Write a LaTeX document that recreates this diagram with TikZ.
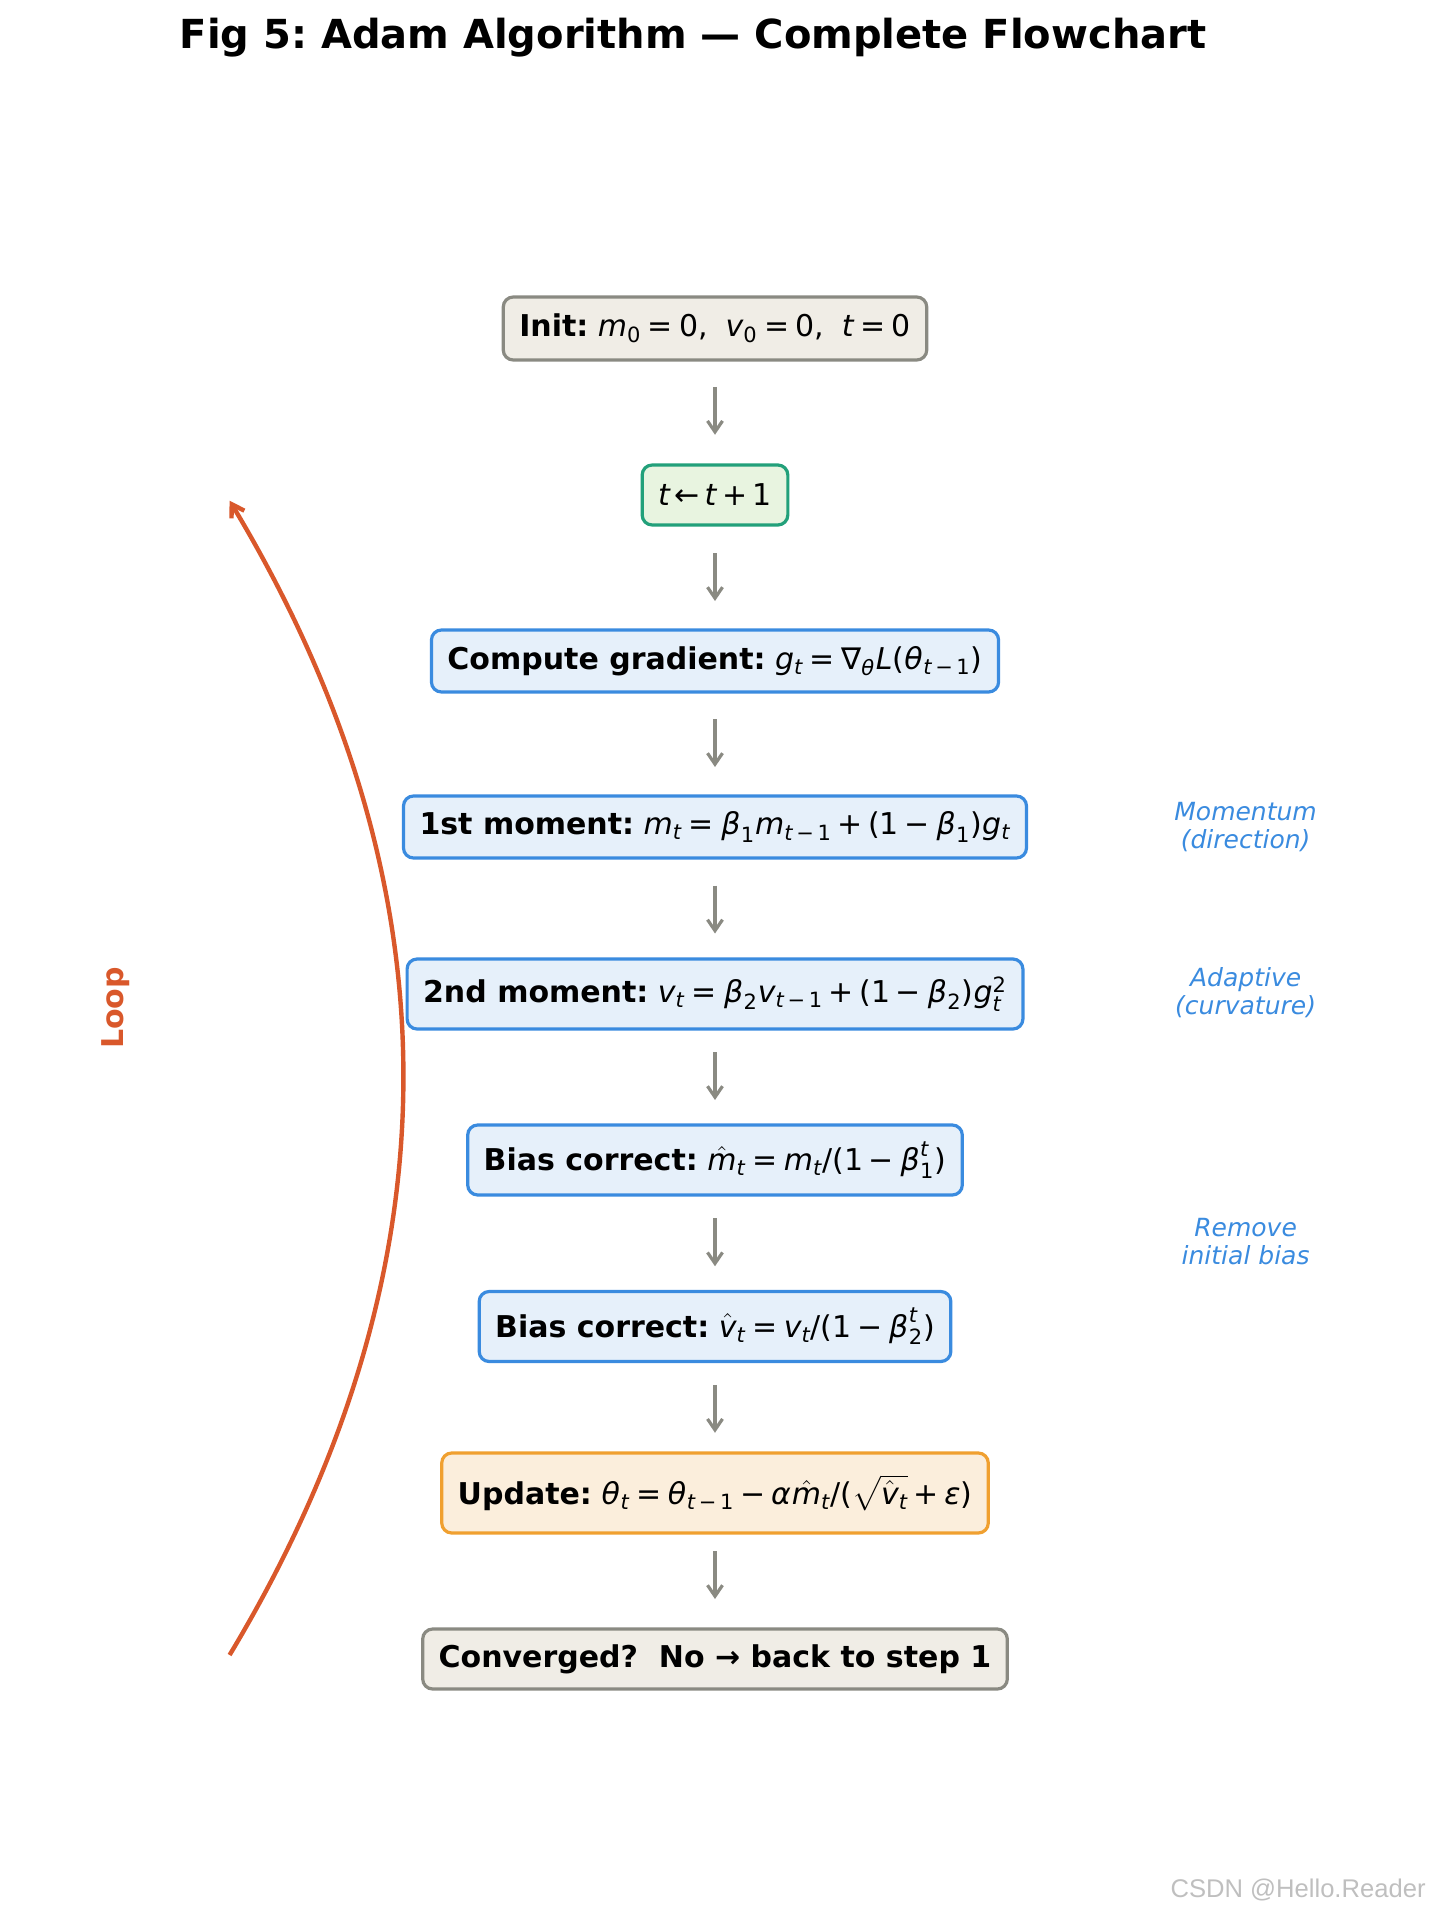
\documentclass[tikz,border=0pt]{standalone}
\usepackage{amsmath}
\usepackage{mathspec}
\setmainfont{DejaVu Sans}
\setmathsfont(Digits,Latin){DejaVu Sans}
\setmathsfont(Greek)[Uppercase=Regular,Lowercase=Italic]{DejaVu Sans}
\newfontfamily\wmfont{Liberation Sans}
\usetikzlibrary{arrows.meta,calc}
\AtBeginDocument{\frenchspacing\thickmuskip=4mu plus 2mu\medmuskip=3.5mu plus 1mu}
\newcommand\Eq{\mathrel{\text{=}}}
\newcommand\Pl{\mathbin{\text{+}}}
\newcommand\Mi{\mathbin{\text{−}}}
\newcommand\Lp{\mathopen{\text{(}}}
\newcommand\Rp{\mathclose{\text{)}}}
\newcommand\Sl{\mathord{\text{/}}}
\newcommand\Na{\mathord{\text{∇}}}
\newcommand\La{\mathord{\,\text{←}\,}}
\newcommand\Cm{\mathpunct{\text{,}}}
\newcommand\Ep{\mathord{\text{\itshape ε}}}
\newcommand\Tm{t\,\Mi\,1}
\definecolor{gborder}{HTML}{8A8A82}
\definecolor{gfill}{HTML}{F0EDE6}
\definecolor{tborder}{HTML}{22A07A}
\definecolor{tfill}{HTML}{E8F4E0}
\definecolor{bborder}{HTML}{3A8BDF}
\definecolor{bfill}{HTML}{E6F0FA}
\definecolor{oborder}{HTML}{F0A030}
\definecolor{ofill}{HTML}{FBEEDC}
\definecolor{loopc}{HTML}{D9582B}
\definecolor{notec}{HTML}{3A8BDF}
\definecolor{arrc}{HTML}{8A8A82}
\tikzset{
  stepbox/.style={draw, rounded corners=5pt, line width=1.6pt, inner xsep=8pt, inner ysep=3pt,
    font=\fontsize{15}{18}\selectfont, anchor=center},
  graybox/.style={stepbox, draw=gborder, fill=gfill},
  greenbox/.style={stepbox, draw=tborder, fill=tfill},
  bluebox/.style={stepbox, draw=bborder, fill=bfill},
  orangebox/.style={stepbox, draw=oborder, fill=ofill},
  flow/.style={draw=arrc, line width=1.6pt, -{Straight Barb[length=5.5pt,width=7.5pt,line width=1.6pt]}},
  loopline/.style={draw=loopc, line width=2.2pt, -{Straight Barb[length=6pt,width=7.5pt,line width=2.2pt]}},
  sidenote/.style={text=notec, font=\itshape\fontsize{12.5}{14}\selectfont, align=center},
}
\begin{document}
\begin{tikzpicture}[x=0.5pt,y=-0.5pt]
\useasboundingbox (0,0) rectangle (1430,1915);
\node[font=\bfseries\fontsize{20}{24}\selectfont] (title) at (693,38) {Fig 5: Adam Algorithm — Complete Flowchart};

\node[graybox, minimum height=31.5pt] (n1) at (715,328.5) {\textbf{Init:} $m_0\Eq 0\Cm\;\;v_0\Eq 0\Cm\;\;t\Eq 0$};
\node[greenbox, minimum height=30pt] (n2) at (715,495) {$t\La t\Pl 1$};
\node[bluebox, minimum height=31pt] (n3) at (715,661) {\textbf{Compute gradient:} $g_t\Eq \Na_{\theta}L\Lp\theta_{\Tm}\Rp$};
\node[bluebox, minimum height=31pt] (n4) at (715,827) {\textbf{1st moment:} $m_t\Eq \beta_1 m_{\Tm}\Pl\Lp 1\Mi\beta_1\Rp g_t$};
\node[bluebox, minimum height=35pt] (n5) at (715,994) {\textbf{2nd moment:} $v_t\Eq \beta_2 v_{\Tm}\Pl\Lp 1\Mi\beta_2\Rp g_t^2$};
\node[bluebox, minimum height=35pt] (n6) at (715,1160) {\textbf{Bias correct:} $\hat{m}_t\Eq m_t\Sl\Lp 1\Mi\beta_1^t\Rp$};
\node[bluebox, minimum height=35pt] (n7) at (715,1326.5) {\textbf{Bias correct:} $\hat{v}_t\Eq v_t\Sl\Lp 1\Mi\beta_2^t\Rp$};
\node[orangebox, minimum height=40pt] (n8) at (715,1493) {\textbf{Update:} $\theta_t\Eq \theta_{\Tm}\Mi\alpha\hat{m}_t\Sl\Lp\sqrt{\hat{v}_t}\Pl\Ep\Rp$};
\node[graybox, minimum height=30pt] (n9) at (715,1659) {\textbf{Converged?\ \ No → back to step 1}};

\foreach \a/\b in {n1/n2,n2/n3,n3/n4,n4/n5,n5/n6,n6/n7,n7/n8,n8/n9}{
  \draw[flow] ($(\a)!0.5!(\b)+(0,-25)$) -- ($(\a)!0.5!(\b)+(0,23)$);
}

\node[sidenote] (s1) at (1245.6,827) {Momentum\\(direction)};
\node[sidenote] (s2) at (1245.6,993) {Adaptive\\(curvature)};
\node[sidenote] (s3) at (1245.6,1242) {Remove\\initial bias};

\coordinate (lb) at (229.6,1655);
\coordinate (lt) at (229.6,500.7);
\draw[loopline] (lb) .. controls (460.8,1270.3) and (460.8,885.5) .. (lt);
\node[rotate=90, text=loopc, font=\bfseries\fontsize{15}{18}\selectfont] (looplabel) at (116,1008) {Loop};

\node[anchor=base east, inner sep=0pt, text=black!25, font=\wmfont\fontsize{12.8}{15}\selectfont] (wm) at (1426,1897) {CSDN @Hello.Reader};
\end{tikzpicture}
\end{document}
